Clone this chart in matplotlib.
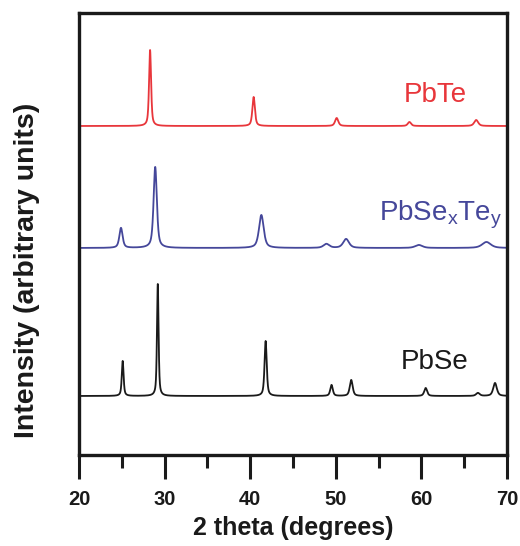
import numpy as np
import matplotlib
matplotlib.use('Agg')
import matplotlib.pyplot as plt
from matplotlib.ticker import MultipleLocator

plt.rcParams['font.family'] = ['Liberation Sans', 'DejaVu Sans']
plt.rcParams['mathtext.fontset'] = 'custom'
plt.rcParams['mathtext.rm'] = 'Liberation Sans'

# Peak positions (deg 2-theta), heights above baseline and FWHM for each sample
pbte_pos = [28.3, 40.4, 50.1, 58.6, 66.4]
pbte_height = [76, 29, 8, 4, 6]
pbte_fwhm = [0.28, 0.35, 0.45, 0.45, 0.55]

pbsete_pos = [24.9, 28.9, 41.3, 48.9, 51.2, 59.7, 67.6]
pbsete_height = [20, 81, 33, 4, 9, 3, 6]
pbsete_fwhm = [0.45, 0.45, 0.65, 0.8, 0.8, 1.0, 1.2]

pbse_pos = [25.1, 29.2, 41.8, 49.5, 51.8, 60.5, 66.6, 68.6]
pbse_height = [35, 112, 55, 11, 16, 8, 3, 13]
pbse_fwhm = [0.25, 0.22, 0.3, 0.35, 0.4, 0.4, 0.5, 0.5]

# vertical offsets of the stacked patterns
offsets = {'PbTe': 329, 'PbSeTe': 207, 'PbSe': 59}

RED = '#e8363b'
BLUE = '#45479a'
BLACK = '#1a1a1a'


def pattern(x, pos, height, fwhm, eta=0.6):
    # pseudo-Voigt peaks on a flat baseline
    y = np.zeros_like(x)
    for p, h, w in zip(pos, height, fwhm):
        hw = w / 2
        lor = 1 / (1 + ((x - p) / hw) ** 2)
        gau = np.exp(-np.log(2) * ((x - p) / hw) ** 2)
        y += h * (eta * lor + (1 - eta) * gau)
    return y


x = np.linspace(20, 70, 5001)

fig = plt.figure(figsize=(5.2, 5.46), dpi=100)
ax = fig.add_axes([0.152, 0.1667, 0.823, 0.8095])

ax.plot(x, offsets['PbTe'] + pattern(x, pbte_pos, pbte_height, pbte_fwhm),
        color=RED, lw=1.3)
ax.plot(x, offsets['PbSeTe'] + pattern(x, pbsete_pos, pbsete_height, pbsete_fwhm),
        color=BLUE, lw=1.3)
ax.plot(x, offsets['PbSe'] + pattern(x, pbse_pos, pbse_height, pbse_fwhm),
        color=BLACK, lw=1.3)

ax.text(61.6, 360, 'PbTe', color=RED, fontsize=20, ha='center', va='center')
ax.text(62.2, 240, r'PbSe$_\mathregular{x}$Te$_\mathregular{y}$', color=BLUE,
        fontsize=20, ha='center', va='center')
ax.text(61.6, 93, 'PbSe', color=BLACK, fontsize=20, ha='center', va='center')

ax.set_xlim(20, 70)
ax.set_ylim(0, 442)
ax.xaxis.set_major_locator(MultipleLocator(10))
ax.xaxis.set_minor_locator(MultipleLocator(5))
ax.set_yticks([])
ax.tick_params(axis='x', which='major', direction='out', length=17, width=2.2,
               labelsize=14.5, pad=8, colors=BLACK)
ax.tick_params(axis='x', which='minor', direction='out', length=9, width=2.2,
               colors=BLACK)
for lbl in ax.get_xticklabels():
    lbl.set_fontweight('bold')
for sp in ax.spines.values():
    sp.set_linewidth(2.4)
    sp.set_color(BLACK)

ax.set_xlabel('2 theta (degrees)', fontsize=18, fontweight='bold', labelpad=5,
              color=BLACK)
fig.text(0.052, 1 - 270 / 546, 'Intensity (arbitrary units)', rotation=90,
         fontsize=20.5, fontweight='bold', ha='center', va='center', color=BLACK)

fig.savefig('out.png', dpi=100)
